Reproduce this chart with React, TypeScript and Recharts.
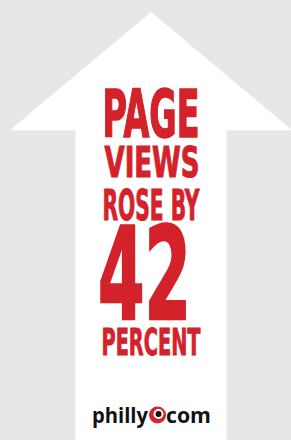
import React from "react";
import { BarChart, Bar, XAxis, YAxis } from "recharts";

const categories = ["Page views"];
const changePercent = [42];
const headlineLines = ["PAGE", "VIEWS", "ROSE BY"];
const unitLabel = "PERCENT";

const data = categories.map((name, i) => ({ name, change: changePercent[i] }));

const RED = "#d3222a";
const BG = "#e6e7e8";
const COND = "'DejaVu Sans Condensed', 'Liberation Sans Narrow', 'DejaVu Sans', sans-serif";

function ArrowShape(props: any) {
  const { x, y, width, height, value } = props;
  const cx = x + width / 2;
  const headHalf = width * 0.504;
  const shaftHalf = width * 0.27;
  const headBase = y + height * 0.276;
  const bottom = y + height;
  const path = `M${cx},${y} L${cx + headHalf},${headBase} L${cx + shaftHalf},${headBase} L${cx + shaftHalf},${bottom} L${cx - shaftHalf},${bottom} L${cx - shaftHalf},${headBase} L${cx - headHalf},${headBase} Z`;
  const textProps = {
    fill: RED,
    stroke: RED,
    fontFamily: COND,
    fontWeight: 700,
    textAnchor: "middle" as const,
    lengthAdjust: "spacingAndGlyphs",
  };
  return (
    <g>
      <path d={path} fill="#ffffff" />
      <text {...textProps} x={cx} y={136.5} fontSize={65} strokeWidth={1.6} textLength={97}>
        {headlineLines[0]}
      </text>
      <text {...textProps} x={cx + 1} y={176.5} fontSize={42} strokeWidth={1} textLength={95}>
        {headlineLines[1]}
      </text>
      <text {...textProps} x={cx} y={219.5} fontSize={42} strokeWidth={1} textLength={97}>
        {headlineLines[2]}
      </text>
      <text {...textProps} x={cx - 6.5} y={319} fontSize={128} strokeWidth={2.5} textLength={93}>
        {Array.isArray(value) ? value[1] : value}
      </text>
      <text {...textProps} x={cx} y={354.5} fontSize={37} strokeWidth={0.8} textLength={99}>
        {unitLabel}
      </text>
      <g fontFamily="'Open Sans', sans-serif" fontWeight={700} fontSize={22} fill="#111">
        <text x={92} y={423} textLength={56} lengthAdjust="spacingAndGlyphs">philly</text>
        <circle cx={157.5} cy={415} r={8.5} fill={RED} />
        <circle cx={158.5} cy={414} r={5} fill="#fff" />
        <circle cx={158.5} cy={414} r={3} fill="#111" />
        <text x={166} y={423} textLength={45} lengthAdjust="spacingAndGlyphs">com</text>
      </g>
    </g>
  );
}

export default function App() {
  return (
    <div style={{ position: "fixed", left: 0, top: 0, width: 291, height: 440, background: BG }}>
      <BarChart
        width={291}
        height={440}
        data={data}
        margin={{ top: 12, right: 0, bottom: 0, left: 11 }}
        barCategoryGap={0}
      >
        <XAxis dataKey="name" hide />
        <YAxis hide domain={[0, changePercent[0]]} />
        <Bar dataKey="change" isAnimationActive={false} shape={<ArrowShape />} />
      </BarChart>
    </div>
  );
}
